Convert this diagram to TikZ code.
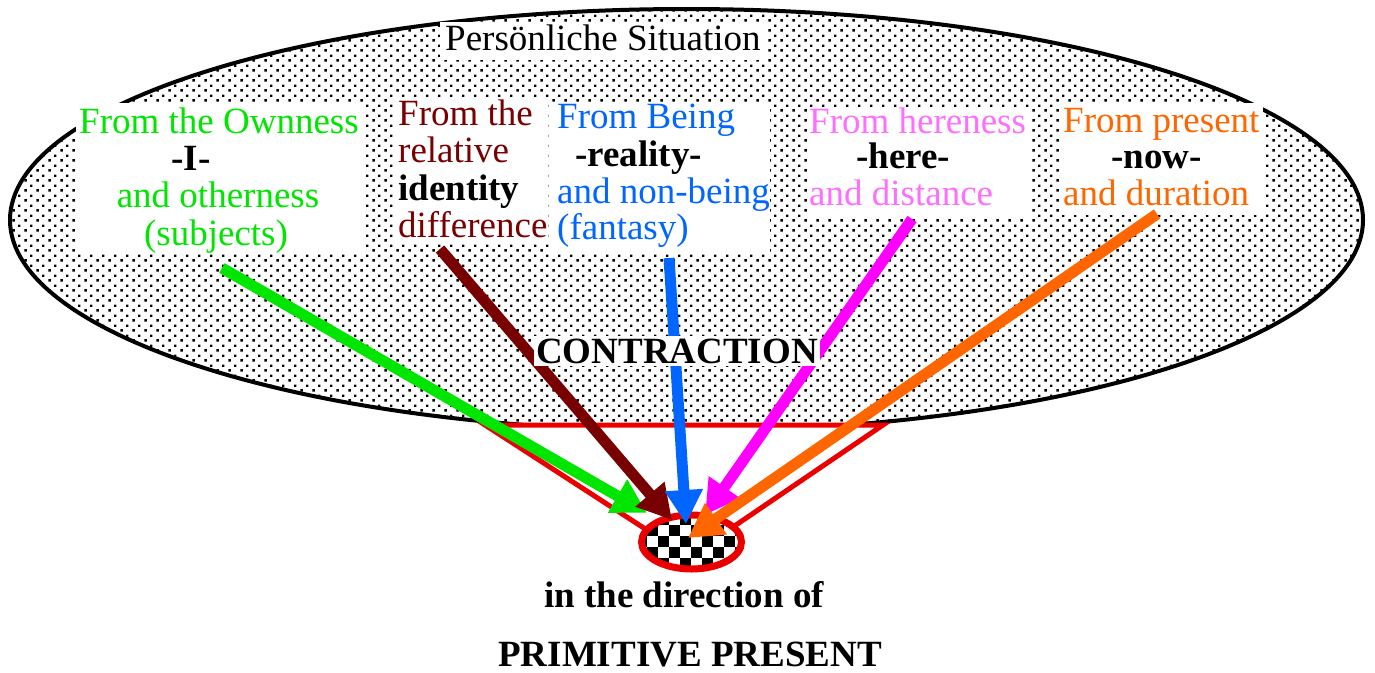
\documentclass[tikz,border=0pt]{standalone}
\usepackage{fontspec}
\setmainfont{Liberation Serif}
\usetikzlibrary{arrows.meta,patterns,shapes.geometric}
\pgfdeclarepatternformonly{bgdots}{\pgfqpoint{0pt}{0pt}}{\pgfqpoint{12pt}{10pt}}{\pgfqpoint{12pt}{10pt}}{%
  \pgfpathrectangle{\pgfqpoint{0.5pt}{0.5pt}}{\pgfqpoint{2.6pt}{2.6pt}}%
  \pgfpathrectangle{\pgfqpoint{6.5pt}{5.5pt}}{\pgfqpoint{2.6pt}{2.6pt}}%
  \pgfusepath{fill}}
\definecolor{cgreen}{RGB}{0,230,0}
\definecolor{cmaroon}{RGB}{120,0,0}
\definecolor{cblue}{RGB}{0,102,255}
\definecolor{cpink}{RGB}{255,110,255}
\definecolor{cmag}{RGB}{255,0,255}
\definecolor{corange}{RGB}{255,102,0}
\definecolor{cred}{RGB}{235,0,0}
\tikzset{
  txt/.style={inner sep=0pt, anchor=base west, font=\rmfamily\fontsize{37}{37}\selectfont},
  ctxt/.style={txt, anchor=base},
  btxt/.style={txt, font=\rmfamily\fontsize{37}{37}\selectfont\bfseries},
  cbtxt/.style={btxt, anchor=base},
  arr/.style={line width=11pt, -{Triangle[length=34pt,width=36pt]}},
  wbox/.style={fill=white}
}
\begin{document}
\begin{tikzpicture}[x=1pt,y=-1pt]
\useasboundingbox (0,0) rectangle (1375,672);
% big ellipse
\fill[white] (686.5,220) ellipse [x radius=676.5, y radius=211];
\fill[pattern=bgdots] (686.5,220) ellipse [x radius=676.5, y radius=211];
\draw[line width=4pt] (686.5,220) ellipse [x radius=676.5, y radius=211];
% white boxes
\fill[wbox] (440,22) rectangle (765,60);
\fill[wbox] (76,103) rectangle (364,253);
\fill[wbox] (395,97) rectangle (548,243);
\fill[wbox] (552,103) rectangle (770,253);
\fill[wbox] (807,107) rectangle (1030,218);
\fill[wbox] (1060,103) rectangle (1263,215);
% title
\node[txt] (title) at (445,50) {Persönliche Situation};
% green box
\node[ctxt, text=cgreen] (g1) at (219,133) {From the Ownness};
\node[cbtxt] (g2) at (191,170) {-I-};
\node[ctxt, text=cgreen] (g3) at (218,207) {and otherness};
\node[ctxt, text=cgreen] (g4) at (216,245) {(subjects)};
% maroon box
\node[txt, text=cmaroon] (m1) at (398,125) {From the};
\node[txt, text=cmaroon] (m2) at (398,162) {relative};
\node[btxt] (m3) at (398,200) {identity};
\node[txt, text=cmaroon] (m4) at (398,237) {difference};
% blue box
\node[txt, text=cblue] (b1) at (557,128) {From Being};
\node[btxt] (b2) at (575,166) {-reality-};
\node[txt, text=cblue] (b3) at (557,203) {and non-being};
\node[txt, text=cblue] (b4) at (557,239) {(fantasy)};
% pink box
\node[txt, text=cpink] (h1) at (809,133) {From hereness};
\node[btxt] (h2) at (856,168) {-here-};
\node[txt, text=cpink] (h3) at (809,205) {and distance};
% orange box
\node[txt, text=corange] (o1) at (1063,132) {From present};
\node[btxt] (o2) at (1111,168) {-now-};
\node[txt, text=corange] (o3) at (1063,205) {and duration};
% trapezoid
\filldraw[draw=cred, fill=white, line width=5pt, line join=miter]
  (485,425) -- (883,425) -- (733,527) -- (650,532) -- cycle;
% small ellipse (primitive present)
\node[ellipse, minimum width=100pt, minimum height=54pt, inner sep=0pt,
      fill=white, draw=cred, line width=7pt,
      path picture={
        \foreach \i in {0,...,10}{\foreach \j in {0,...,5}{
          \pgfmathtruncatemacro\s{mod(\i+\j,2)}
          \ifnum\s=0 \fill[black] (-55.8+11*\i,-28+11*\j) rectangle ++(11,11); \fi
        }}
      }] (pp) at (691.5,542) {};
% arrows
\coordinate (gT) at (222,268);  \coordinate (gH) at (647,513);
\coordinate (mT) at (440,249);  \coordinate (mH) at (672,520);
\coordinate (bT) at (669,258);  \coordinate (bH) at (686,524);
\coordinate (hT) at (912,219);  \coordinate (hH) at (705,515);
\coordinate (oT) at (1157,214); \coordinate (oH) at (688,538);
\draw[arr, cgreen] (gT) -- (gH);
\draw[arr, cmaroon] (mT) -- (mH);
\draw[arr, cblue] (bT) -- (bH);
\draw[arr, cmag] (hT) -- (hH);
\draw[arr, corange] (oT) -- (oH);
% contraction
\node[btxt, anchor=base, fill=white, inner xsep=2pt, inner ysep=3pt] (con) at (677,363) {CONTRACTION};
% bottom texts
\node[cbtxt] (dir) at (684,607) {in the direction of};
\node[cbtxt] (prim) at (690,666) {PRIMITIVE PRESENT};
\end{tikzpicture}
\end{document}
